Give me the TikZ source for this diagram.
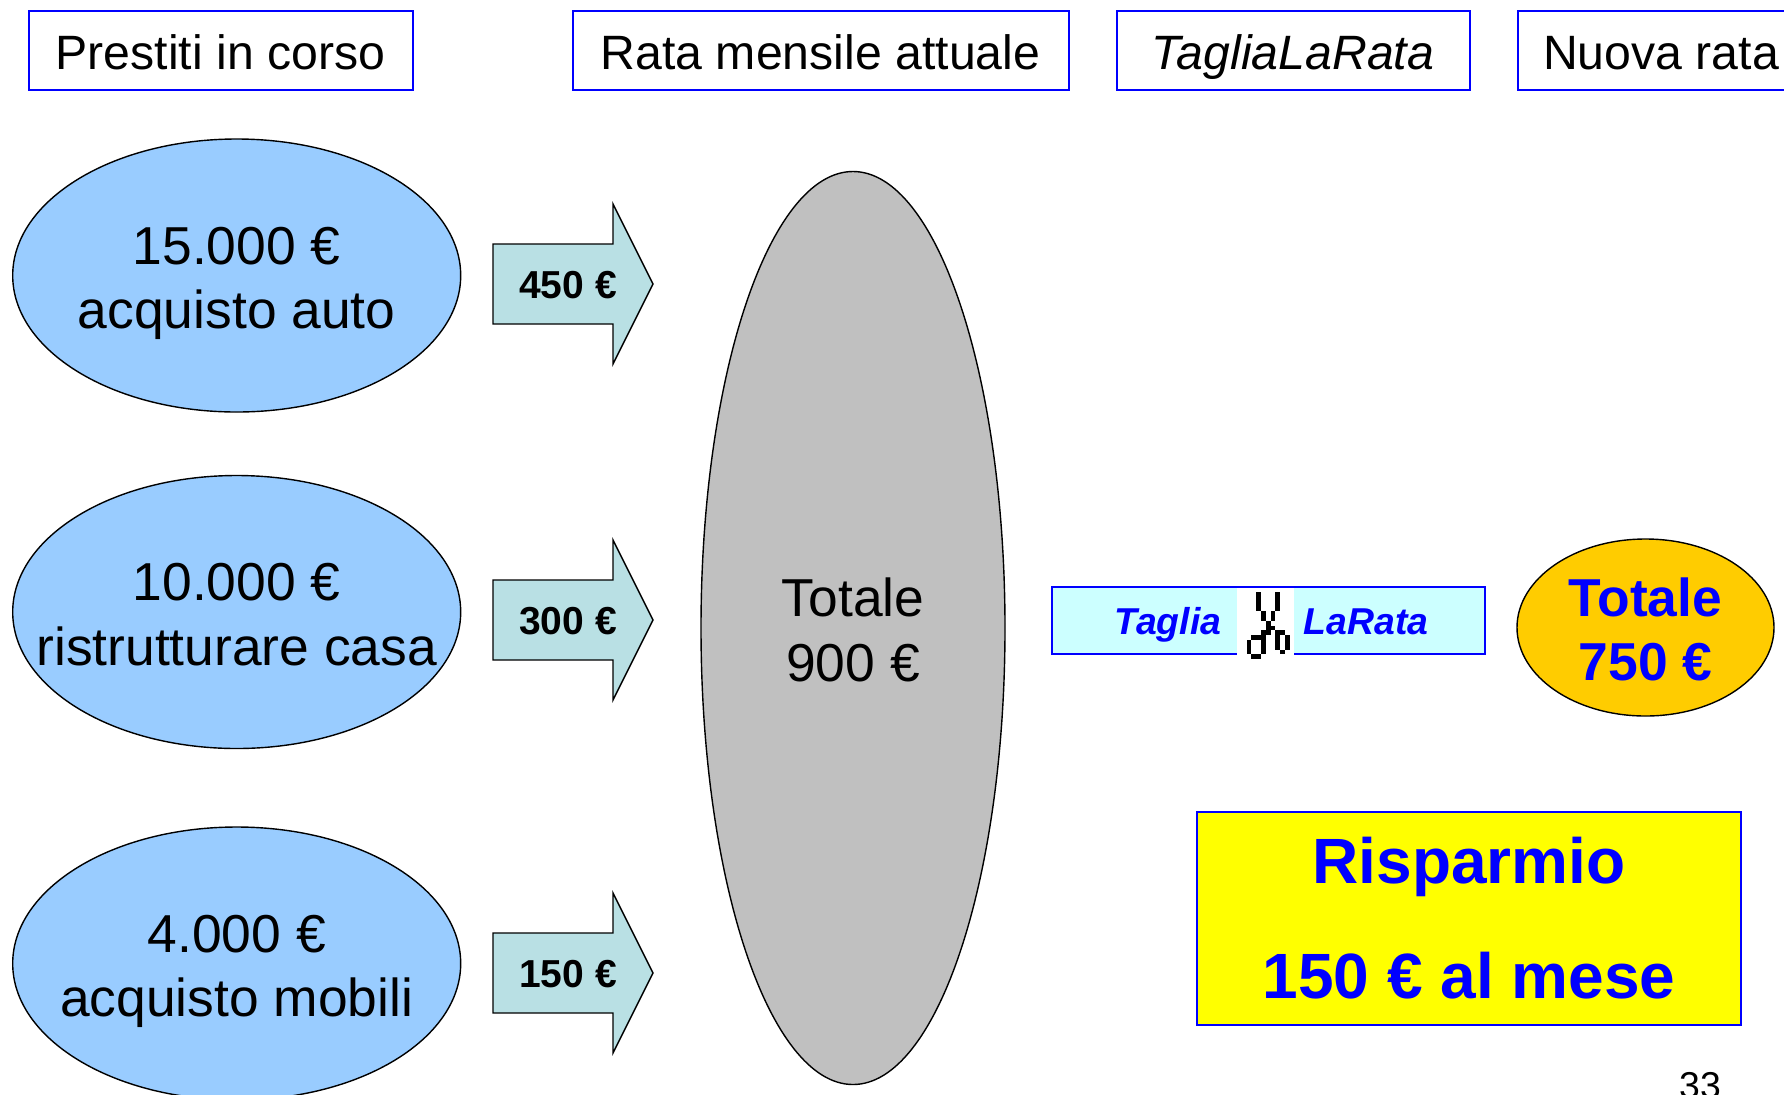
\documentclass[tikz,border=0pt]{standalone}
\usepackage{fontspec}
\setmainfont{Liberation Sans}
\usetikzlibrary{shapes.geometric}
\definecolor{bordoblu}{RGB}{0,0,255}
\definecolor{azzurro}{RGB}{153,204,255}
\definecolor{grigio}{RGB}{192,192,192}
\definecolor{acqua}{RGB}{185,224,228}
\definecolor{ciano}{RGB}{204,255,255}
\definecolor{arancio}{RGB}{255,204,0}
\definecolor{giallo}{RGB}{255,255,0}
\tikzset{
    header/.style={draw=bordoblu, line width=1pt, minimum height=39.5pt, inner sep=0pt, text height=24pt, text depth=5.2pt, font=\fontsize{24.1}{28}\selectfont},
    prestito/.style={ellipse, draw=black, fill=azzurro, line width=0.7pt, minimum width=224pt, minimum height=136.5pt, inner ysep=0pt, inner xsep=-40pt, align=center, text height=55pt, text depth=2pt, font=\fontsize{26.7}{32.2}\selectfont},
    rata/.style={draw=black, fill=acqua, line width=0.7pt},
    ratatxt/.style={inner sep=0pt, text height=16pt, text depth=2pt, font=\fontsize{19.5}{22}\selectfont\bfseries},
    barratxt/.style={inner sep=0pt, text=bordoblu, text height=16pt, text depth=2.5pt, font=\fontsize{18.7}{22}\selectfont\bfseries\itshape}
}
\begin{document}
\begin{tikzpicture}[x=0.5pt, y=-0.5pt]
    \useasboundingbox (0,0) rectangle (1784,1094);
    % Titoli
    \node[header, minimum width=192pt] (prestiti) at (220.5,50.5) {Prestiti in corso};
    \node[header, minimum width=248pt] (attuale) at (820.5,50.5) {Rata mensile attuale};
    \node[header, minimum width=176.5pt] (taglia) at (1293,50.5) {\itshape TagliaLaRata};
    \node[header, minimum width=160pt, anchor=west] (nuova) at (1517,50.5) {\hspace{-17pt}Nuova rata};
    % Prestiti
    \node[prestito] (auto) at (236.7,275.5) {15.000 €\\acquisto auto};
    \node[prestito] (casa) at (236.7,612) {10.000 €\\ristrutturare casa};
    \node[prestito] (mobili) at (236.7,963.5) {4.000 €\\acquisto mobili};
    % Frecce
    \foreach \y/\val in {284/450, 620/300, 973/150} {
        \draw[rata] (493,\y-40) -- (613,\y-40) -- (613,\y-80) -- (653,\y) -- (613,\y+80) -- (613,\y+40) -- (493,\y+40) -- cycle;
        \node[ratatxt] (r\val) at (568,\y) {\val\ €};
    }
    % Totali
    \node[prestito, fill=grigio, minimum width=152pt, minimum height=456.5pt] (totale) at (853,628) {Totale\\900 €};
    \node[draw=bordoblu, fill=ciano, line width=0.8pt, minimum width=216.5pt, minimum height=33.5pt, inner sep=0pt] (barra) at (1268.5,620.5) {};
    \node[barratxt] (tagliatxt) at (1168,620.5) {Taglia};
    \node[barratxt] (laratatxt) at (1366,620.5) {LaRata};
    \fill[white] (1237,587.5) rectangle (1294,656);
    % Forbici
    \foreach \c/\r in {2/0,6/0,2/1,6/1,2/2,6/2,2/3,6/3,3/4,5/4,3/5,5/5,4/6,4/7,5/7,3/8,4/8,6/8,7/8,1/9,2/9,3/9,6/9,8/9,0/10,3/10,6/10,8/10,0/11,3/11,6/11,8/11,0/12,3/12,7/12,1/13,2/13} {
        \fill[black] (1246.7+4.77*\c,592.3+4.77*\r) rectangle ++(4.77,4.77);
    }
    \node[prestito, fill=arancio, minimum width=128.5pt, minimum height=88.5pt, text=bordoblu, font=\fontsize{26.7}{32.2}\selectfont\bfseries] (nuovo) at (1645.5,627.5) {Totale\\750 €};
    \node[draw=bordoblu, fill=giallo, line width=0.8pt, minimum width=272pt, minimum height=106.5pt, inner sep=0pt, align=center, text=bordoblu, font=\fontsize{32}{57.5}\selectfont\bfseries] (risparmio) at (1469,918.5) {Risparmio\\150 € al mese};
    \node[anchor=base, inner sep=0pt, font=\fontsize{18.7}{22}\selectfont] (pagina) at (1700,1098) {33};
\end{tikzpicture}
\end{document}
